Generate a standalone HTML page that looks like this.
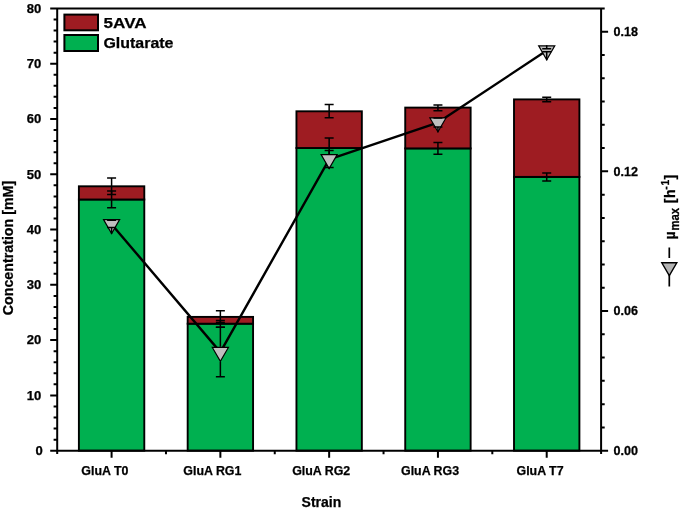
<!DOCTYPE html>
<html><head><meta charset="utf-8"><title>Chart</title>
<style>text{stroke:#000;stroke-width:.25px}html,body{margin:0;padding:0;background:#fff;}body{width:685px;height:512px;overflow:hidden;position:relative;font-family:"Liberation Sans", sans-serif;}</style>
</head><body>
<svg width="685" height="512" viewBox="0 0 685 512" style="display:block;position:absolute;left:0;top:0;will-change:transform" font-family='"Liberation Sans", sans-serif' font-weight="bold" fill="#000">
<rect width="685" height="512" fill="#fff"/>
<rect x="78.89" y="199.50" width="65.40" height="251.20" fill="#00B050" stroke="#000" stroke-width="1.9"/>
<rect x="78.89" y="186.30" width="65.40" height="13.20" fill="#9E1C22" stroke="#000" stroke-width="1.9"/>
<rect x="187.67" y="323.70" width="65.40" height="127.00" fill="#00B050" stroke="#000" stroke-width="1.9"/>
<rect x="187.67" y="316.90" width="65.40" height="6.80" fill="#9E1C22" stroke="#000" stroke-width="1.9"/>
<rect x="296.45" y="148.00" width="65.40" height="302.70" fill="#00B050" stroke="#000" stroke-width="1.9"/>
<rect x="296.45" y="111.30" width="65.40" height="36.70" fill="#9E1C22" stroke="#000" stroke-width="1.9"/>
<rect x="405.23" y="148.40" width="65.40" height="302.30" fill="#00B050" stroke="#000" stroke-width="1.9"/>
<rect x="405.23" y="107.60" width="65.40" height="40.80" fill="#9E1C22" stroke="#000" stroke-width="1.9"/>
<rect x="514.01" y="176.90" width="65.40" height="273.80" fill="#00B050" stroke="#000" stroke-width="1.9"/>
<rect x="514.01" y="99.40" width="65.40" height="77.50" fill="#9E1C22" stroke="#000" stroke-width="1.9"/>
<path d="M111.59 191.10V207.80M107.09 191.10h9.0M107.09 207.80h9.0" stroke="#000" stroke-width="1.5" fill="none"/>
<path d="M111.59 178.00V194.60M107.09 178.00h9.0M107.09 194.60h9.0" stroke="#000" stroke-width="1.5" fill="none"/>
<path d="M220.37 320.50V327.30M215.87 320.50h9.0M215.87 327.30h9.0" stroke="#000" stroke-width="1.5" fill="none"/>
<path d="M220.37 310.80V322.60M215.87 310.80h9.0M215.87 322.60h9.0" stroke="#000" stroke-width="1.5" fill="none"/>
<path d="M329.15 137.90V158.10M324.65 137.90h9.0M324.65 158.10h9.0" stroke="#000" stroke-width="1.5" fill="none"/>
<path d="M329.15 104.40V117.80M324.65 104.40h9.0M324.65 117.80h9.0" stroke="#000" stroke-width="1.5" fill="none"/>
<path d="M437.93 142.40V154.20M433.43 142.40h9.0M433.43 154.20h9.0" stroke="#000" stroke-width="1.5" fill="none"/>
<path d="M437.93 105.00V110.80M433.43 105.00h9.0M433.43 110.80h9.0" stroke="#000" stroke-width="1.5" fill="none"/>
<path d="M546.71 173.10V181.00M542.21 173.10h9.0M542.21 181.00h9.0" stroke="#000" stroke-width="1.5" fill="none"/>
<path d="M546.71 97.20V101.80M542.21 97.20h9.0M542.21 101.80h9.0" stroke="#000" stroke-width="1.5" fill="none"/>
<path d="M57.2 8.4V454.0M50.2 8.4H604.7M601.1 8.4V454.0M50.2 450.7H608.1" stroke="#000" stroke-width="2.0" fill="none"/>
<path d="M53.60 439.64H57.2M53.60 428.58H57.2M53.60 417.53H57.2M53.60 406.47H57.2M50.20 395.41H57.2M53.60 384.36H57.2M53.60 373.30H57.2M53.60 362.24H57.2M53.60 351.18H57.2M50.20 340.12H57.2M53.60 329.07H57.2M53.60 318.01H57.2M53.60 306.95H57.2M53.60 295.89H57.2M50.20 284.84H57.2M53.60 273.78H57.2M53.60 262.72H57.2M53.60 251.66H57.2M53.60 240.61H57.2M50.20 229.55H57.2M53.60 218.49H57.2M53.60 207.43H57.2M53.60 196.38H57.2M53.60 185.32H57.2M50.20 174.26H57.2M53.60 163.20H57.2M53.60 152.15H57.2M53.60 141.09H57.2M53.60 130.03H57.2M50.20 118.97H57.2M53.60 107.92H57.2M53.60 96.86H57.2M53.60 85.80H57.2M53.60 74.74H57.2M50.20 63.69H57.2M53.60 52.63H57.2M53.60 41.57H57.2M53.60 30.51H57.2M53.60 19.46H57.2" stroke="#000" stroke-width="2.0" fill="none"/>
<path d="M601.1 427.42h3.6M601.1 404.14h3.6M601.1 380.87h3.6M601.1 357.59h3.6M601.1 334.31h3.6M601.1 311.03h7M601.1 287.76h3.6M601.1 264.48h3.6M601.1 241.20h3.6M601.1 217.92h3.6M601.1 194.64h3.6M601.1 171.37h7M601.1 148.09h3.6M601.1 124.81h3.6M601.1 101.53h3.6M601.1 78.26h3.6M601.1 54.98h3.6M601.1 31.70h7" stroke="#000" stroke-width="2.0" fill="none"/>
<path d="M111.59 450.7v7M220.37 450.7v7M329.15 450.7v7M437.93 450.7v7M546.71 450.7v7M165.98 450.7v3.6M274.76 450.7v3.6M383.54 450.7v3.6M492.32 450.7v3.6" stroke="#000" stroke-width="2.0" fill="none"/>
<polyline points="111.59,224.20 220.37,352.10 329.15,159.30 437.93,122.60 546.71,50.50" fill="none" stroke="#000" stroke-width="2.4" stroke-linejoin="round"/>
<path d="M103.54 219.57H119.64L111.59 233.47Z" fill="#BFBFBF" stroke="#000" stroke-width="1.2" stroke-linejoin="miter"/>
<path d="M111.59 218.97V220.30M111.59 233.87V227.60M107.09 220.30h9.0M107.09 227.60h9.0" stroke="#000" stroke-width="1.5" fill="none"/>
<path d="M212.32 347.47H228.42L220.37 361.37Z" fill="#BFBFBF" stroke="#000" stroke-width="1.2" stroke-linejoin="miter"/>
<path d="M220.37 346.87V327.30M220.37 361.77V376.80M215.87 327.30h9.0M215.87 376.80h9.0" stroke="#000" stroke-width="1.5" fill="none"/>
<path d="M321.10 154.67H337.20L329.15 168.57Z" fill="#BFBFBF" stroke="#000" stroke-width="1.2" stroke-linejoin="miter"/>
<path d="M329.15 154.07V150.40M329.15 168.97V167.60M324.65 150.40h9.0M324.65 167.60h9.0" stroke="#000" stroke-width="1.5" fill="none"/>
<path d="M429.88 117.97H445.98L437.93 131.87Z" fill="#BFBFBF" stroke="#000" stroke-width="1.2" stroke-linejoin="miter"/>
<path d="M437.93 117.37V117.90M437.93 132.27V126.90M433.43 117.90h9.0M433.43 126.90h9.0" stroke="#000" stroke-width="1.5" fill="none"/>
<path d="M538.66 45.87H554.76L546.71 59.77Z" fill="#BFBFBF" stroke="#000" stroke-width="1.2" stroke-linejoin="miter"/>
<path d="M546.71 45.27V48.70M546.71 60.17V51.80M542.21 48.70h9.0M542.21 51.80h9.0" stroke="#000" stroke-width="1.5" fill="none"/>
<rect x="64.4" y="14.6" width="33.6" height="15.7" fill="#9E1C22" stroke="#000" stroke-width="2"/>
<rect x="64.4" y="35.0" width="33.6" height="16.0" fill="#00B050" stroke="#000" stroke-width="2"/>
<text x="103.6" y="27.7" font-size="15.4" textLength="43" lengthAdjust="spacingAndGlyphs">5AVA</text>
<text x="103.4" y="48.3" font-size="15.4" textLength="70.1" lengthAdjust="spacingAndGlyphs">Glutarate</text>
<text transform="translate(42.8 455.0) scale(1.09 1)" font-size="12" text-anchor="end">0</text>
<text transform="translate(41.3 399.71) scale(1.09 1)" font-size="12" text-anchor="end">10</text>
<text transform="translate(41.3 344.43) scale(1.09 1)" font-size="12" text-anchor="end">20</text>
<text transform="translate(41.3 289.14) scale(1.09 1)" font-size="12" text-anchor="end">30</text>
<text transform="translate(41.3 233.85) scale(1.09 1)" font-size="12" text-anchor="end">40</text>
<text transform="translate(41.3 178.56) scale(1.09 1)" font-size="12" text-anchor="end">50</text>
<text transform="translate(41.3 123.27) scale(1.09 1)" font-size="12" text-anchor="end">60</text>
<text transform="translate(41.3 67.99) scale(1.09 1)" font-size="12" text-anchor="end">70</text>
<text transform="translate(41.3 12.7) scale(1.09 1)" font-size="12" text-anchor="end">80</text>
<text transform="translate(613.4 455.0) scale(1.05 1)" font-size="12" text-anchor="start">0.00</text>
<text transform="translate(613.4 315.33) scale(1.05 1)" font-size="12" text-anchor="start">0.06</text>
<text transform="translate(613.4 175.67) scale(1.05 1)" font-size="12" text-anchor="start">0.12</text>
<text transform="translate(613.4 36.0) scale(1.05 1)" font-size="12" text-anchor="start">0.18</text>
<text transform="translate(81.3 474.9) scale(1.0 1)" font-size="12.4" text-anchor="start">GluA T0</text>
<text transform="translate(183.3 474.9) scale(1.0 1)" font-size="12.4" text-anchor="start">GluA RG1</text>
<text transform="translate(292.2 474.9) scale(1.0 1)" font-size="12.4" text-anchor="start">GluA RG2</text>
<text transform="translate(401.0 474.9) scale(1.0 1)" font-size="12.4" text-anchor="start">GluA RG3</text>
<text transform="translate(516.5 474.9) scale(1.0 1)" font-size="12.4" text-anchor="start">GluA T7</text>
<text x="301.6" y="506.6" font-size="14">Strain</text>
<text transform="translate(12.75 315.3) rotate(-90) scale(1 1.07)" font-size="14.25">Concentration [mM]</text>
<g transform="translate(674.7 238.8) rotate(-90) scale(1 1.07)" font-size="14.25"><text x="-0.8" y="0">µ</text><text x="8.2" y="4.4" font-size="11.25">max</text><text x="35.5" y="0">[</text><text x="40.9" y="0">h</text><text x="49.1" y="-5.4" font-size="10.4">-</text><text x="53.3" y="-5.4" font-size="10.2">1</text><text x="59.35" y="0">]</text></g>
<path d="M669.3 247.5V257.9M669.3 274V286.4" stroke="#000" stroke-width="1.7"/>
<path d="M661.8 262.8H676.8L669.3 275.7Z" fill="#B3B3B3" stroke="#000" stroke-width="1.4"/>
</svg>
</body></html>
